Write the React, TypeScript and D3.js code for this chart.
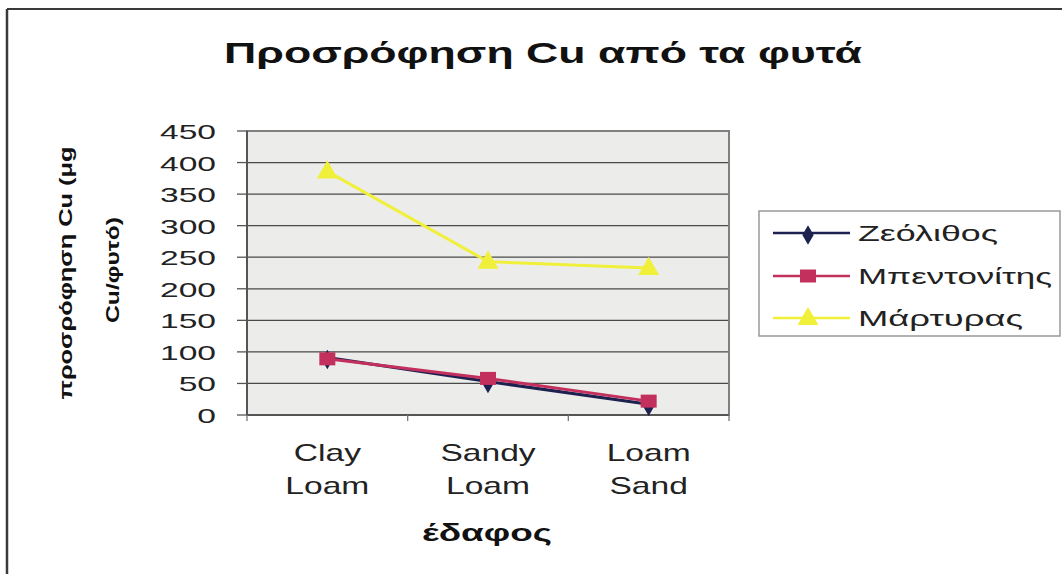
import React from "react";
import * as d3 from "d3";

const categories = ["Clay Loam", "Sandy Loam", "Loam Sand"];
const categoryLines = [["Clay", "Loam"], ["Sandy", "Loam"], ["Loam", "Sand"]];
const zeolite = [91, 53, 17];
const bentonite = [89, 58, 22];
const martyras = [386, 243, 233];
const yTicks = [0, 50, 100, 150, 200, 250, 300, 350, 400, 450];
const seriesNames = ["Ζεόλιθος", "Μπεντονίτης", "Μάρτυρας"];

const W = 1062;
const H = 574;
const plot = { left: 247, right: 729, top: 131, bottom: 415 };

export default function App() {
  const x = d3.scaleBand<string>().domain(categories).range([plot.left, plot.right]);
  const y = d3.scaleLinear().domain([0, 450]).range([plot.bottom, plot.top]);
  const cx = (i: number) => (x(categories[i]) as number) + x.bandwidth() / 2;
  const line = d3.line<number>().x((_, i) => cx(i)).y((v) => y(v));

  const series = [
    { name: seriesNames[0], values: zeolite, color: "#1c2150", marker: "diamond" },
    { name: seriesNames[1], values: bentonite, color: "#c4305e", marker: "square" },
    { name: seriesNames[2], values: martyras, color: "#f0f03a", marker: "triangle" },
  ];

  const diamond = d3.symbol().type(d3.symbolDiamond).size(110)() as string;
  const triangle = d3.symbol().type(d3.symbolTriangle).size(190)() as string;

  const marker = (kind: string, color: string, px: number, py: number, key: string) => {
    if (kind === "square")
      return <rect key={key} x={px - 8} y={py - 6.5} width={16} height={13} fill={color} />;
    if (kind === "diamond")
      return <path key={key} d={diamond} transform={`translate(${px},${py + 2})`} fill={color} />;
    return <path key={key} d={triangle} transform={`translate(${px},${py + 1})`} fill={color} />;
  };

  const font = "'Liberation Sans', Arial, sans-serif";
  const legendRows = [233, 276, 318];
  const legendWidths = [140, 194, 165];

  return (
    <svg width={W} height={H} style={{ position: "absolute", left: 0, top: 0, background: "#fff" }} fontFamily={font}>
      <rect x={0} y={0} width={W} height={H} fill="#fff" />
      {/* outer frame */}
      <line x1={7} y1={9} x2={W} y2={9} stroke="#3a3a3a" strokeWidth={2} />
      <line x1={7} y1={9} x2={7} y2={H} stroke="#3a3a3a" strokeWidth={2.5} />

      {/* title */}
      <text x={543} y={63} textAnchor="middle" fontSize={30} fontWeight="bold" fill="#111"
        textLength={638} lengthAdjust="spacingAndGlyphs">Προσρόφηση Cu από τα φυτά</text>

      {/* plot background */}
      <rect x={plot.left} y={plot.top} width={plot.right - plot.left} height={plot.bottom - plot.top} fill="#ececea" />

      {/* gridlines */}
      {yTicks.map((t) => (
        <line key={"g" + t} x1={plot.left} x2={plot.right} y1={y(t)} y2={y(t)} stroke="#4a4a4a" strokeWidth={1.3} />
      ))}
      {/* plot border */}
      <rect x={plot.left} y={plot.top} width={plot.right - plot.left} height={plot.bottom - plot.top}
        fill="none" stroke="#808080" strokeWidth={2} />
      <line x1={plot.left} x2={plot.left} y1={plot.top} y2={plot.bottom} stroke="#555" strokeWidth={2} />
      <line x1={plot.left} x2={plot.right} y1={plot.bottom} y2={plot.bottom} stroke="#555" strokeWidth={2} />

      {/* y ticks and labels */}
      {yTicks.map((t) => (
        <g key={"yt" + t}>
          <line x1={plot.left - 10} x2={plot.left} y1={y(t)} y2={y(t)} stroke="#555" strokeWidth={1.3} />
          <text transform={`translate(216,${y(t) + 8}) scale(1.6,1)`} textAnchor="end" fontSize={21} fill="#222">{t}</text>
        </g>
      ))}

      {/* x ticks */}
      {[0, 1, 2, 3].map((i) => {
        const xx = plot.left + i * x.bandwidth();
        return <line key={"xt" + i} x1={xx} x2={xx} y1={plot.bottom} y2={plot.bottom + 6} stroke="#777" strokeWidth={1.3} />;
      })}

      {/* category labels */}
      {categoryLines.map((lines, i) => (
        <g key={"cl" + i}>
          {lines.map((s, j) => (
            <text key={j} transform={`translate(${cx(i)},${461 + j * 33}) scale(1.4,1)`} textAnchor="middle" fontSize={24} fill="#222">{s}</text>
          ))}
        </g>
      ))}

      {/* x axis title */}
      <text x={487} y={541} textAnchor="middle" fontSize={24} fontWeight="bold" fill="#111"
        textLength={130} lengthAdjust="spacingAndGlyphs">έδαφος</text>

      {/* y axis title */}
      <text transform="translate(72,273) rotate(-90)" textAnchor="middle" fontSize={19} fontWeight="bold" fill="#111"
        textLength={253} lengthAdjust="spacingAndGlyphs">προσρόφηση Cu (μg</text>
      <text transform="translate(119,270) rotate(-90)" textAnchor="middle" fontSize={19} fontWeight="bold" fill="#111"
        textLength={106} lengthAdjust="spacingAndGlyphs">Cu/φυτό)</text>

      {/* series */}
      {series.map((s) => (
        <g key={s.name}>
          <path d={line(s.values) as string} fill="none" stroke={s.color} strokeWidth={3} />
          {s.values.map((v, i) => marker(s.marker, s.color, cx(i), y(v), s.name + i))}
        </g>
      ))}

      {/* legend */}
      <rect x={759} y={211} width={301} height={125} fill="#fff" stroke="#999" strokeWidth={1.5} />
      {series.map((s, i) => (
        <g key={"lg" + i}>
          <line x1={773} x2={850} y1={legendRows[i]} y2={legendRows[i]} stroke={s.color} strokeWidth={2.5} />
          {marker(s.marker, s.color, 808, legendRows[i], "lm" + i)}
          <text x={858} y={legendRows[i] + 8} fontSize={22} fill="#222"
            textLength={legendWidths[i]} lengthAdjust="spacingAndGlyphs">{s.name}</text>
        </g>
      ))}
    </svg>
  );
}
